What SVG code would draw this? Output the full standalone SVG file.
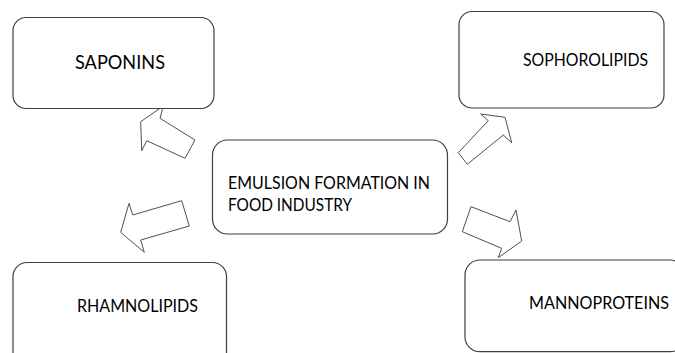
<svg xmlns="http://www.w3.org/2000/svg" width="675" height="353" viewBox="0 0 675 353">
  <style>
    .box { fill: #ffffff; stroke: #404040; stroke-width: 1.2; }
    .arrow { fill: #ffffff; stroke: #505050; stroke-width: 1; stroke-linejoin: miter; }
    .label { font-family: Lato, "Liberation Sans", sans-serif; fill: #000000; }
  </style>
  <rect width="675" height="353" fill="#ffffff"/>

  <!-- block arrows from the central node -->
  <g id="connectors">
    <polygon class="arrow" points="140.7,121.7 141.7,150.7 146.7,140.7 185,158.3 195,140 160,118.3 163.3,106"/>
    <polygon class="arrow" points="120.7,232.3 129,203.3 132.7,215 181.7,200.7 189.3,226 140.7,240 144.3,252.3"/>
    <polygon class="arrow" points="505,117.3 511.7,142.7 503.3,135 467.3,164.3 458.3,152.7 488.3,120.7 480.7,114"/>
    <polygon class="arrow" points="521.7,241 498.3,257.7 501.7,248.3 462.3,231.7 471,206.7 510,221.7 516,210"/>
  </g>

  <g id="saponins">
    <rect class="box" x="13" y="17.5" width="201" height="91" rx="13" ry="13"/>
    <text class="label" x="75" y="69" font-size="19" textLength="90" lengthAdjust="spacingAndGlyphs">SAPONINS</text>
  </g>

  <g id="sophorolipids">
    <rect class="box" x="459" y="11.5" width="205" height="96.5" rx="13" ry="13"/>
    <text class="label" x="523" y="66" font-size="17" textLength="125" lengthAdjust="spacingAndGlyphs">SOPHOROLIPIDS</text>
  </g>

  <g id="emulsion">
    <rect class="box" x="212.5" y="140" width="235" height="94" rx="15" ry="15"/>
    <text class="label" x="228" y="189" font-size="18" textLength="202" lengthAdjust="spacingAndGlyphs">EMULSION FORMATION IN</text>
    <text class="label" x="228" y="211" font-size="18" textLength="124" lengthAdjust="spacingAndGlyphs">FOOD INDUSTRY</text>
  </g>

  <g id="rhamnolipids">
    <rect class="box" x="13" y="262.5" width="213.5" height="110" rx="14" ry="14"/>
    <text class="label" x="77" y="311.7" font-size="16.5" textLength="121" lengthAdjust="spacingAndGlyphs">RHAMNOLIPIDS</text>
  </g>

  <g id="mannoproteins">
    <rect class="box" x="465" y="260" width="220" height="91.7" rx="15" ry="15"/>
    <text class="label" x="529" y="309.3" font-size="17.5" textLength="140" lengthAdjust="spacingAndGlyphs">MANNOPROTEINS</text>
  </g>
</svg>
